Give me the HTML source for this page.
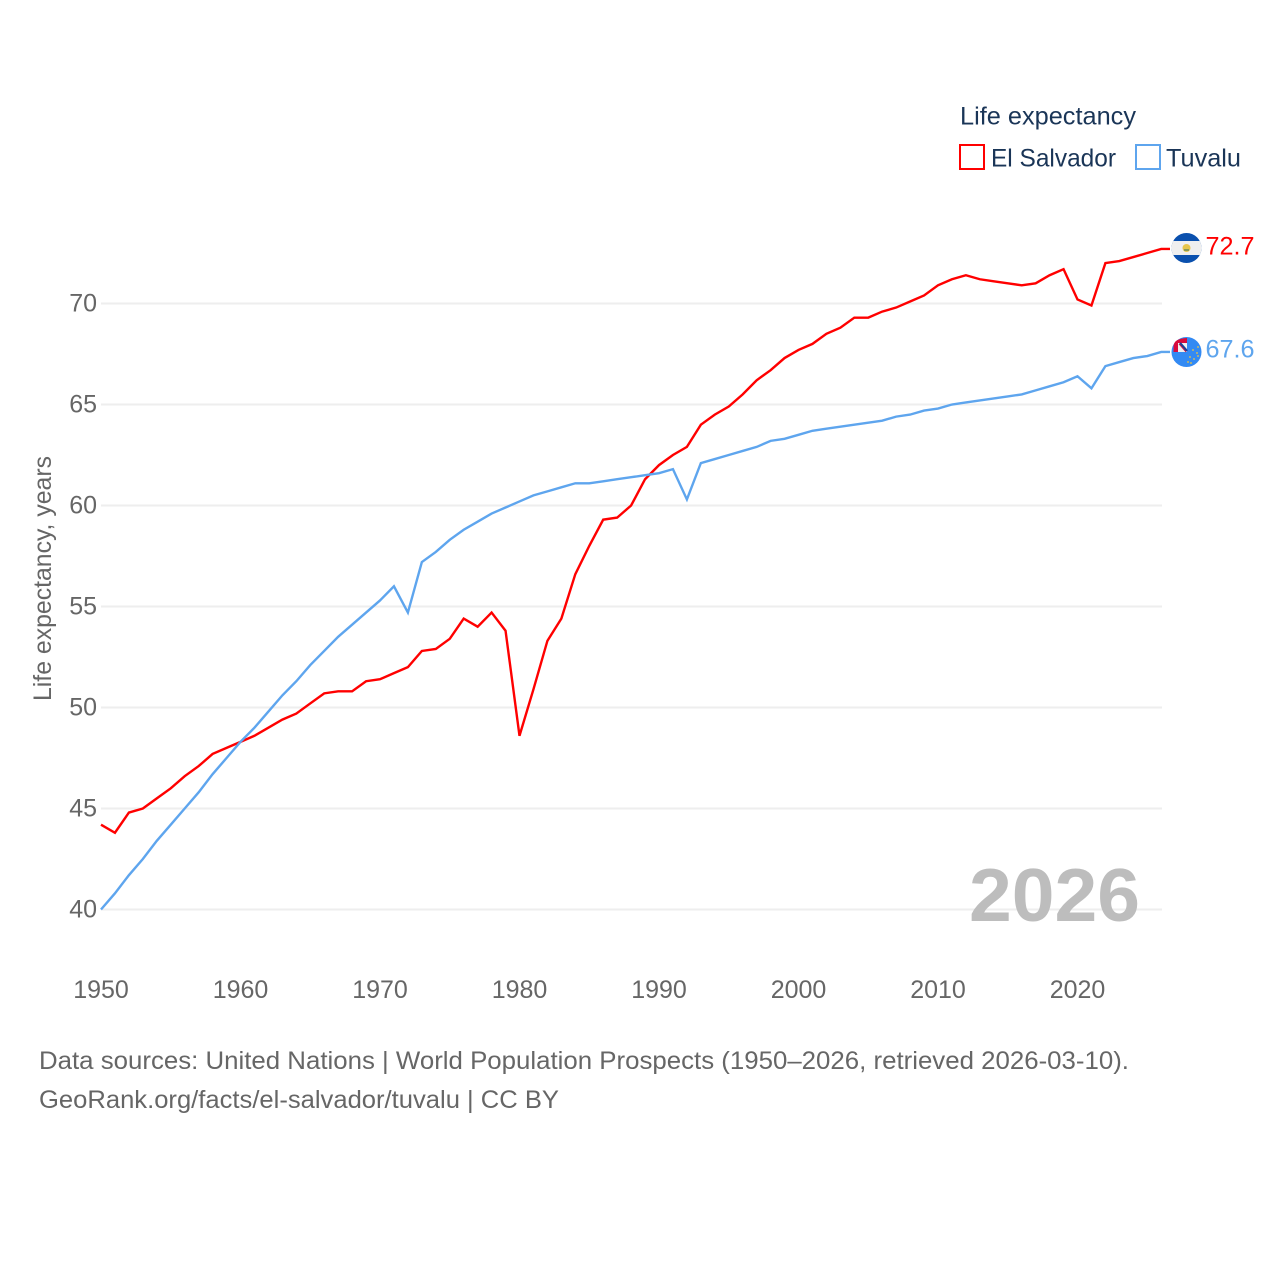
<!DOCTYPE html>
<html lang="en">
<head>
<meta charset="utf-8">
<title>Life expectancy: El Salvador and Tuvalu</title>
<style>
html,body{margin:0;padding:0;background:#fff;}
svg{display:block;font-family:"Liberation Sans",sans-serif;}
</style>
</head>
<body>
<svg id="chart" xmlns="http://www.w3.org/2000/svg" width="1280" height="1280" viewBox="0 0 1280 1280">
  <rect width="1280" height="1280" fill="#fff"/>
  <g id="grid"></g>
  <g id="yticks"></g>
  <g id="xticks"></g>
  <text transform="translate(51,701) rotate(-90)" font-size="25" fill="#666" textLength="245" lengthAdjust="spacingAndGlyphs">Life expectancy, years</text>
  <text x="969" y="921" font-size="75" font-weight="bold" fill="#bdbdbd" textLength="171" lengthAdjust="spacingAndGlyphs">2026</text>
  <g id="series"></g>

  <g>
    <clipPath id="clip-sv"><circle cx="1186.5" cy="248" r="15"/></clipPath>
    <g clip-path="url(#clip-sv)">
      <rect x="1171" y="233" width="31" height="30" fill="#0a50ae"/>
      <rect x="1171" y="241" width="31" height="14" fill="#efefef"/>
      <circle cx="1186.5" cy="248" r="4" fill="#e6c64c"/>
      <rect x="1184" y="249" width="5" height="2" fill="#8a9a55"/>
    </g>
  </g>
  <g>
    <clipPath id="clip-tv"><circle cx="1186.5" cy="352" r="15"/></clipPath>
    <g clip-path="url(#clip-tv)">
      <rect x="1171" y="337" width="31" height="30" fill="#338af3"/>
    </g>
    <path d="M1173.5 346 Q1174 338.5 1187 338 V352 H1173.5 Z" fill="#d80b3c"/>
    <rect x="1178" y="343" width="9" height="9" fill="#f0f0f0"/>
    <path d="M1180 343 L1187 351" stroke="#1c3f94" stroke-width="2.4" fill="none"/>
    <path d="M1179 344 L1186 352" stroke="#d80b3c" stroke-width="0.9" fill="none"/>
    <g fill="#f0c63e">
      <circle cx="1198" cy="347" r="0.9"/><circle cx="1193" cy="350" r="0.9"/><circle cx="1197" cy="353" r="0.9"/>
      <circle cx="1198" cy="356" r="0.9"/><circle cx="1190" cy="357" r="0.9"/><circle cx="1194" cy="359" r="0.9"/>
      <circle cx="1188" cy="362" r="0.9"/><circle cx="1191" cy="363" r="0.9"/>
    </g>
  </g>

  <text id="label-sv" x="1205.5" y="254.5" font-size="25" fill="#ff0000" textLength="49" lengthAdjust="spacingAndGlyphs"></text>
  <text id="label-tv" x="1205.5" y="357.5" font-size="25" fill="#5ea5ee" textLength="49" lengthAdjust="spacingAndGlyphs"></text>

  <g>
    <text x="960" y="124.5" font-size="25" fill="#1a3557" textLength="176" lengthAdjust="spacingAndGlyphs">Life expectancy</text>
    <rect x="960" y="145" width="24" height="24" fill="#fff" stroke="#ff0000" stroke-width="2"/>
    <text x="991" y="166.5" font-size="25" fill="#1a3557" textLength="125" lengthAdjust="spacingAndGlyphs">El Salvador</text>
    <rect x="1136" y="145" width="24" height="24" fill="#fff" stroke="#5ea5ee" stroke-width="2"/>
    <text x="1166" y="166.5" font-size="25" fill="#1a3557" textLength="75" lengthAdjust="spacingAndGlyphs">Tuvalu</text>
  </g>

  <text x="39" y="1069" font-size="25" fill="#666" textLength="1090" lengthAdjust="spacingAndGlyphs">Data sources: United Nations | World Population Prospects (1950–2026, retrieved 2026-03-10).</text>
  <text x="39" y="1108" font-size="25" fill="#666" textLength="520" lengthAdjust="spacingAndGlyphs">GeoRank.org/facts/el-salvador/tuvalu | CC BY</text>
</svg>
<script>
const startYear = 1950;
const xTickLabels = [1950, 1960, 1970, 1980, 1990, 2000, 2010, 2020];
const yTickLabels = [40, 45, 50, 55, 60, 65, 70];
const elSalvador = [
  44.2, 43.8, 44.8, 45.0, 45.5, 46.0, 46.6, 47.1, 47.7, 48.0,
  48.3, 48.6, 49.0, 49.4, 49.7, 50.2, 50.7, 50.8, 50.8, 51.3,
  51.4, 51.7, 52.0, 52.8, 52.9, 53.4, 54.4, 54.0, 54.7, 53.8,
  48.6, 50.9, 53.3, 54.4, 56.6, 58.0, 59.3, 59.4, 60.0, 61.3,
  62.0, 62.5, 62.9, 64.0, 64.5, 64.9, 65.5, 66.2, 66.7, 67.3,
  67.7, 68.0, 68.5, 68.8, 69.3, 69.3, 69.6, 69.8, 70.1, 70.4,
  70.9, 71.2, 71.4, 71.2, 71.1, 71.0, 70.9, 71.0, 71.4, 71.7,
  70.2, 69.9, 72.0, 72.1, 72.3, 72.5, 72.7
];
const tuvalu = [
  40.0, 40.8, 41.7, 42.5, 43.4, 44.2, 45.0, 45.8, 46.7, 47.5,
  48.3, 49.0, 49.8, 50.6, 51.3, 52.1, 52.8, 53.5, 54.1, 54.7,
  55.3, 56.0, 54.7, 57.2, 57.7, 58.3, 58.8, 59.2, 59.6, 59.9,
  60.2, 60.5, 60.7, 60.9, 61.1, 61.1, 61.2, 61.3, 61.4, 61.5,
  61.6, 61.8, 60.3, 62.1, 62.3, 62.5, 62.7, 62.9, 63.2, 63.3,
  63.5, 63.7, 63.8, 63.9, 64.0, 64.1, 64.2, 64.4, 64.5, 64.7,
  64.8, 65.0, 65.1, 65.2, 65.3, 65.4, 65.5, 65.7, 65.9, 66.1,
  66.4, 65.8, 66.9, 67.1, 67.3, 67.4, 67.6
];

const NS = 'http://www.w3.org/2000/svg';
function xScale(year) { return 101 + (year - 1950) * 13.95; }
function yScale(value) { return 909.5 - (value - 40) * 20.2; }
function make(tag, attrs, text) {
  const el = document.createElementNS(NS, tag);
  for (const k in attrs) el.setAttribute(k, attrs[k]);
  if (text !== undefined) el.textContent = text;
  return el;
}

const grid = document.getElementById('grid');
const yticks = document.getElementById('yticks');
const xticks = document.getElementById('xticks');
const series = document.getElementById('series');

yTickLabels.forEach(function (v) {
  const line = make('line', {x1: 101, x2: 1162, y1: yScale(v), y2: yScale(v), stroke: '#eeeeee', 'stroke-width': 2});
  
  
  grid.appendChild(line);
  const label = make('text', {x: 97, y: yScale(v) + 8, 'font-size': 25, fill: '#666', 'text-anchor': 'end'}, String(v));
  
  
  yticks.appendChild(label);
});

xTickLabels.forEach(function (y) {
  const label = make('text', {x: xScale(y), y: 998, 'font-size': 25, fill: '#666', 'text-anchor': 'middle'}, String(y));
  
  
  xticks.appendChild(label);
});

function linePoints(values) {
  const pts = values.map(function (v, i) { return xScale(startYear + i).toFixed(2) + ',' + yScale(v).toFixed(2); });
  pts.push('1170,' + yScale(values[values.length - 1]).toFixed(2));
  return pts.join(' ');
}

const lineSv = make('polyline', {points: linePoints(elSalvador), fill: 'none', stroke: '#ff0000', 'stroke-width': 2.4, 'stroke-linejoin': 'miter'});


const lineTv = make('polyline', {points: linePoints(tuvalu), fill: 'none', stroke: '#5ea5ee', 'stroke-width': 2.4, 'stroke-linejoin': 'miter'});


series.appendChild(lineSv);
series.appendChild(lineTv);

document.getElementById('label-sv').textContent = elSalvador[elSalvador.length - 1].toFixed(1);
document.getElementById('label-tv').textContent = tuvalu[tuvalu.length - 1].toFixed(1);
</script>
</body>
</html>
